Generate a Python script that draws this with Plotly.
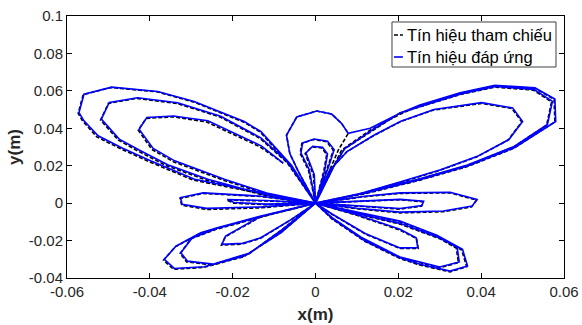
import plotly.graph_objects as go

# ---------------- data (metres) ----------------
x_tick_vals = [-0.06, -0.04, -0.02, 0, 0.02, 0.04, 0.06]
x_tick_text = ["-0.06", "-0.04", "-0.02", "0", "0.02", "0.04", "0.06"]
y_tick_vals = [-0.04, -0.02, 0, 0.02, 0.04, 0.06, 0.08, 0.1]
y_tick_text = ["-0.04", "-0.02", "0", "0.02", "0.04", "0.06", "0.08", "0.1"]
legend_names = ["Tín hiệu tham chiếu", "Tín hiệu đáp ứng"]

# reference signal (black dashed), loop by loop
ref_s0 = [(-0.0078, 0.0214), (-0.0134, 0.0301), (-0.0263, 0.0434), (-0.0343, 0.0461), (-0.0409, 0.0453),
          (-0.0428, 0.0390), (-0.0395, 0.0287), (-0.0343, 0.0221), (-0.0223, 0.0123), (-0.0120, 0.0050), (0, 0)]
ref_b = [(-0.0130, 0.0045), (-0.0263, 0.0123), (-0.0360, 0.0200), (-0.0430, 0.0280), (-0.0476, 0.0337),
         (-0.0519, 0.0444), (-0.0500, 0.0533), (-0.0432, 0.0560), (-0.0335, 0.0533), (-0.0231, 0.0461),
         (-0.0134, 0.0346), (-0.0070, 0.0220), (0, 0)]
ref_a = [(-0.0134, 0.0052), (-0.0295, 0.0123), (-0.0400, 0.0220), (-0.0470, 0.0290), (-0.0528, 0.0354),
         (-0.0562, 0.0438), (-0.0573, 0.0479), (-0.0561, 0.0579), (-0.0494, 0.0618), (-0.0383, 0.0595),
         (-0.0295, 0.0541), (-0.0174, 0.0434), (-0.0134, 0.0381), (-0.0060, 0.0200), (0, 0)]
ref_i = [(-0.0130, 0.0035), (-0.0271, 0.0052), (-0.0327, 0.0025), (-0.0323, -0.0011), (-0.0263, -0.0034),
         (-0.0130, -0.0025), (0, 0)]
ref_j = [(-0.0120, 0.0012), (-0.0214, 0.0016), (-0.0198, 0.0000), (-0.0120, -0.0008), (0, 0)]
ref_o = [(-0.0134, -0.0075), (-0.0218, -0.0180), (-0.0227, -0.0224), (-0.0178, -0.0219), (-0.0134, -0.0189),
         (-0.0060, -0.0090), (0, 0)]
ref_n = [(-0.0120, -0.0068), (-0.0240, -0.0140), (-0.0300, -0.0190), (-0.0327, -0.0269), (-0.0311, -0.0314),
         (-0.0250, -0.0330), (-0.0160, -0.0270), (-0.0080, -0.0140), (0, 0)]
ref_m = [(-0.0134, -0.0073), (-0.0239, -0.0135), (-0.0279, -0.0162), (-0.0339, -0.0234), (-0.0367, -0.0305),
         (-0.0343, -0.0353), (-0.0271, -0.0344), (-0.0174, -0.0287), (-0.0085, -0.0160), (0, 0)]
ref_f = [(-0.0041, 0.0167), (-0.0062, 0.0265), (-0.0070, 0.0363), (-0.0045, 0.0461), (0.0003, 0.0492),
         (0.0039, 0.0476), (0.0063, 0.0426), (0.0079, 0.0373), (0.0055, 0.0283), (0.0035, 0.0180), (0, 0)]
ref_d1 = [(0.0043, 0.0194), (0.0063, 0.0283), (0.0132, 0.0390), (0.0204, 0.0475), (0.0252, 0.0520),
          (0.0349, 0.0586), (0.0433, 0.0627), (0.0530, 0.0613), (0.0576, 0.0554), (0.0578, 0.0434),
          (0.0478, 0.0292), (0.0365, 0.0194), (0.0252, 0.0123), (0.0120, 0.0050), (0, 0)]
ref_e = [(0.0035, 0.0177), (0.0075, 0.0274), (0.0140, 0.0360), (0.0204, 0.0434), (0.0284, 0.0497),
         (0.0401, 0.0533), (0.0474, 0.0506), (0.0498, 0.0434), (0.0465, 0.0337), (0.0389, 0.0247),
         (0.0300, 0.0175), (0.0204, 0.0110), (0.0100, 0.0045), (0, 0)]
ref_d2 = [(0.0045, 0.0200), (0.0070, 0.0290), (0.0135, 0.0385), (0.0204, 0.0482), (0.0349, 0.0580),
          (0.0433, 0.0620), (0.0526, 0.0604), (0.0570, 0.0541), (0.0558, 0.0417), (0.0478, 0.0300),
          (0.0365, 0.0200), (0.0252, 0.0128), (0.0120, 0.0055), (0, 0)]
ref_k = [(0.0120, 0.0035), (0.0204, 0.0052), (0.0325, 0.0055), (0.0389, 0.0016), (0.0377, -0.0020),
         (0.0309, -0.0046), (0.0204, -0.0052), (0.0100, -0.0030), (0, 0)]
ref_l = [(0.0120, 0.0012), (0.0204, 0.0018), (0.0260, 0.0007), (0.0256, -0.0016), (0.0204, -0.0032),
         (0.0120, -0.0020), (0, 0)]
ref_r = [(0.0100, -0.0065), (0.0204, -0.0144), (0.0244, -0.0189), (0.0248, -0.0242), (0.0204, -0.0242),
         (0.0120, -0.0165), (0.0040, -0.0060), (0, 0)]
ref_q = [(0.0100, -0.0058), (0.0204, -0.0112), (0.0300, -0.0190), (0.0340, -0.0240), (0.0345, -0.0318),
         (0.0300, -0.0345), (0.0204, -0.0292), (0.0110, -0.0185), (0.0040, -0.0080), (0, 0)]
ref_p = [(0.0100, -0.0050), (0.0204, -0.0100), (0.0293, -0.0176), (0.0337, -0.0233), (0.0353, -0.0251),
         (0.0365, -0.0340), (0.0325, -0.0367), (0.0252, -0.0331), (0.0204, -0.0296), (0.0120, -0.0205),
         (0.0040, -0.0085), (0, 0)]
ref_g = [(-0.0017, 0.0176), (-0.0037, 0.0265), (-0.0033, 0.0319), (-0.0005, 0.0340), (0.0027, 0.0328),
         (0.0043, 0.0283), (0.0030, 0.0194), (0, 0)]
ref_h = [(-0.0005, 0.0150), (-0.0025, 0.0265), (-0.0009, 0.0301), (0.0015, 0.0295), (0.0027, 0.0260),
         (0.0020, 0.0170), (0, 0)]

# response signal (blue solid), loop by loop
res_s0 = [(-0.0078, 0.0214), (-0.0130, 0.0305), (-0.0260, 0.0440), (-0.0343, 0.0466), (-0.0407, 0.0458),
          (-0.0426, 0.0395), (-0.0392, 0.0292), (-0.0340, 0.0226), (-0.0220, 0.0128), (-0.0118, 0.0054), (0, 0)]
res_b = [(-0.0128, 0.0049), (-0.0260, 0.0128), (-0.0357, 0.0205), (-0.0427, 0.0285), (-0.0474, 0.0342),
         (-0.0517, 0.0449), (-0.0498, 0.0538), (-0.0430, 0.0563), (-0.0333, 0.0536), (-0.0229, 0.0464),
         (-0.0132, 0.0349), (-0.0068, 0.0222), (0, 0)]
res_a = [(-0.0132, 0.0056), (-0.0292, 0.0128), (-0.0397, 0.0225), (-0.0467, 0.0295), (-0.0525, 0.0360),
         (-0.0560, 0.0443), (-0.0571, 0.0484), (-0.0559, 0.0582), (-0.0492, 0.0620), (-0.0381, 0.0597),
         (-0.0293, 0.0543), (-0.0172, 0.0436), (-0.0132, 0.0383), (-0.0058, 0.0202), (0, 0)]
res_i = [(-0.0130, 0.0037), (-0.0271, 0.0055), (-0.0326, 0.0030), (-0.0322, -0.0006), (-0.0263, -0.0028),
         (-0.0130, -0.0020), (0, 0)]
res_j = [(-0.0120, 0.0014), (-0.0213, 0.0019), (-0.0197, 0.0003), (-0.0120, -0.0005), (0, 0)]
res_o = [(-0.0134, -0.0072), (-0.0217, -0.0176), (-0.0226, -0.0220), (-0.0176, -0.0215), (-0.0132, -0.0185),
         (-0.0058, -0.0087), (0, 0)]
res_n = [(-0.0120, -0.0065), (-0.0238, -0.0136), (-0.0298, -0.0186), (-0.0325, -0.0265), (-0.0309, -0.0310),
         (-0.0248, -0.0326), (-0.0158, -0.0266), (-0.0078, -0.0137), (0, 0)]
res_m = [(-0.0134, -0.0070), (-0.0237, -0.0131), (-0.0277, -0.0158), (-0.0337, -0.0230), (-0.0365, -0.0300),
         (-0.0341, -0.0349), (-0.0269, -0.0340), (-0.0172, -0.0283), (-0.0083, -0.0157), (0, 0)]
res_f = [(-0.0041, 0.0167), (-0.0062, 0.0265), (-0.0070, 0.0363), (-0.0045, 0.0461), (0.0003, 0.0492),
         (0.0039, 0.0476), (0.0063, 0.0426), (0.0079, 0.0373), (0.0132, 0.0400)]
res_d1 = [(0.0204, 0.0480), (0.0252, 0.0524), (0.0349, 0.0590), (0.0433, 0.0630), (0.0530, 0.0616),
          (0.0578, 0.0556), (0.0580, 0.0436), (0.0480, 0.0296), (0.0367, 0.0198), (0.0254, 0.0127),
          (0.0122, 0.0054), (0, 0)]
res_e = [(0.0035, 0.0177), (0.0077, 0.0277), (0.0142, 0.0364), (0.0206, 0.0438), (0.0286, 0.0500),
         (0.0401, 0.0537), (0.0476, 0.0509), (0.0500, 0.0436), (0.0467, 0.0340), (0.0391, 0.0250),
         (0.0302, 0.0179), (0.0206, 0.0114), (0.0102, 0.0048), (0, 0)]
res_d2 = [(0.0045, 0.0200), (0.0070, 0.0290), (0.0135, 0.0388), (0.0206, 0.0485), (0.0351, 0.0583),
          (0.0435, 0.0623), (0.0528, 0.0607), (0.0572, 0.0544), (0.0560, 0.0420), (0.0480, 0.0303),
          (0.0367, 0.0204), (0.0254, 0.0132), (0.0122, 0.0058), (0, 0)]
res_k = [(0.0120, 0.0037), (0.0204, 0.0055), (0.0325, 0.0058), (0.0390, 0.0020), (0.0378, -0.0016),
         (0.0309, -0.0042), (0.0204, -0.0048), (0.0100, -0.0027), (0, 0)]
res_l = [(0.0120, 0.0014), (0.0204, 0.0020), (0.0261, 0.0010), (0.0257, -0.0013), (0.0204, -0.0029),
         (0.0120, -0.0018), (0, 0)]
res_r = [(0.0100, -0.0062), (0.0204, -0.0140), (0.0243, -0.0185), (0.0247, -0.0238), (0.0204, -0.0239),
         (0.0120, -0.0162), (0.0040, -0.0058), (0, 0)]
res_q = [(0.0100, -0.0055), (0.0204, -0.0108), (0.0300, -0.0186), (0.0342, -0.0236), (0.0347, -0.0314),
         (0.0300, -0.0341), (0.0204, -0.0288), (0.0110, -0.0182), (0.0040, -0.0077), (0, 0)]
res_p = [(0.0100, -0.0047), (0.0204, -0.0096), (0.0293, -0.0172), (0.0339, -0.0229), (0.0355, -0.0247),
         (0.0367, -0.0336), (0.0325, -0.0363), (0.0252, -0.0327), (0.0204, -0.0292), (0.0120, -0.0202),
         (0.0040, -0.0082), (0, 0)]
res_g = [(-0.0015, 0.0178), (-0.0035, 0.0268), (-0.0031, 0.0322), (-0.0003, 0.0343), (0.0029, 0.0331),
         (0.0045, 0.0286), (0.0032, 0.0197), (0, 0)]
res_h = [(-0.0003, 0.0152), (-0.0023, 0.0268), (-0.0007, 0.0304), (0.0017, 0.0298), (0.0029, 0.0263),
         (0.0022, 0.0172), (0, 0)]

ref_path = (ref_s0 + ref_b + ref_a + ref_i + ref_j + ref_o + ref_n + ref_m + ref_f + ref_d1 + ref_e
            + ref_d2 + ref_k + ref_l + ref_r + ref_q + ref_p + ref_g + ref_h)
res_path = (res_s0 + res_b + res_a + res_i + res_j + res_o + res_n + res_m + res_f + res_d1 + res_e
            + res_d2 + res_k + res_l + res_r + res_q + res_p + res_g + res_h)

FONT = "Arial, 'Liberation Sans', Helvetica, sans-serif"
REF_LINE = dict(color="black", width=1.6, dash="4px,2px")
RES_LINE = dict(color="#0000ff", width=1.6)

fig = go.Figure()
fig.add_trace(go.Scatter(
    x=[p[0] for p in ref_path], y=[p[1] for p in ref_path], mode="lines",
    name=legend_names[0], line=REF_LINE, showlegend=False))
fig.add_trace(go.Scatter(
    x=[p[0] for p in res_path], y=[p[1] for p in res_path], mode="lines",
    name=legend_names[1], line=RES_LINE, showlegend=False))

axis_common = dict(showgrid=False, zeroline=False, showline=True, linecolor="black", linewidth=1,
                   mirror="ticks", ticks="inside", ticklen=5, tickcolor="black", automargin=False,
                   tickfont=dict(family=FONT, size=15, color="#262626"))

fig.update_xaxes(range=[-0.06, 0.06], tickvals=x_tick_vals, ticktext=x_tick_text,
                 title=dict(text="<b>x(m)</b>", font=dict(family=FONT, size=17, color="#262626"), standoff=9),
                 **axis_common)
fig.update_yaxes(range=[-0.04, 0.1], tickvals=y_tick_vals, ticktext=y_tick_text,
                 title=dict(text="<b>y(m)</b>", font=dict(family=FONT, size=17, color="#262626"), standoff=3),
                 **axis_common)

# legend box drawn in paper coordinates (top-right, inside the axes)
lx0, lx1, ly0, ly1 = 0.6539, 0.9839, 0.8053, 0.9771
row_y = [0.9275, 0.8435]
sample_x = [0.6539 + 0.004, 0.6539 + 0.022]
text_x = 0.6795
shapes = [dict(type="rect", xref="paper", yref="paper", x0=lx0, x1=lx1, y0=ly0, y1=ly1,
               line=dict(color="#404040", width=1), fillcolor="white", layer="above")]
shapes.append(dict(type="line", xref="paper", yref="paper", x0=sample_x[0], x1=sample_x[1],
                   y0=row_y[0], y1=row_y[0], line=REF_LINE, layer="above"))
shapes.append(dict(type="line", xref="paper", yref="paper", x0=sample_x[0], x1=sample_x[1],
                   y0=row_y[1], y1=row_y[1], line=RES_LINE, layer="above"))
annotations = [dict(xref="paper", yref="paper", x=text_x, y=row_y[i], text=legend_names[i],
                    showarrow=False, xanchor="left", yanchor="middle",
                    font=dict(family=FONT, size=16.5, color="black")) for i in range(2)]

fig.update_layout(
    width=582, height=325,
    margin=dict(l=67, r=18, t=16, b=47),
    paper_bgcolor="white", plot_bgcolor="white",
    font=dict(family=FONT, size=15, color="#262626"),
    showlegend=False,
    shapes=shapes, annotations=annotations,
)

fig.write_html("out.html", config={"displayModeBar": False},
               post_script="document.body.style.margin='0';document.body.style.padding='0';")
